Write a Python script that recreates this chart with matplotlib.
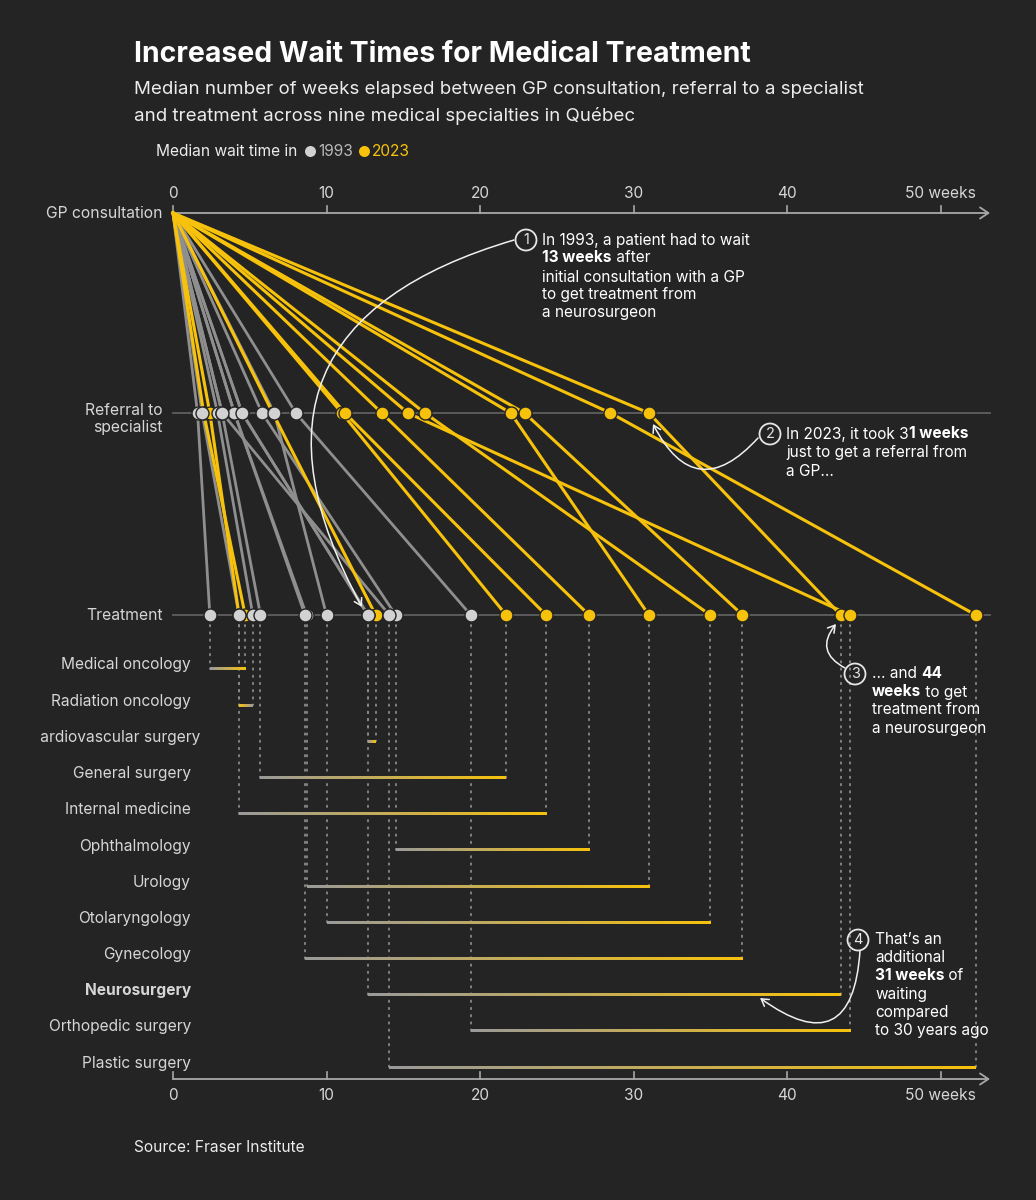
import matplotlib
matplotlib.use("Agg")
import matplotlib.pyplot as plt
import matplotlib.transforms as mtransforms
from matplotlib.patches import Circle, FancyArrowPatch
import numpy as np

# wait times in weeks
specialties = ["Medical oncology", "Radiation oncology", "Cardiovascular surgery",
               "General surgery", "Internal medicine", "Ophthalmology", "Urology",
               "Otolaryngology", "Gynecology", "Neurosurgery", "Orthopedic surgery",
               "Plastic surgery"]
referral_1993 = [1.6, 2.9, 4.5, 3.2, 1.9, 5.8, 4.0, 6.6, 4.0, 4.5, 8.0, 3.2]
treatment_1993 = [2.4, 5.2, 12.7, 5.7, 4.3, 14.5, 8.7, 10.0, 8.6, 12.7, 19.4, 14.1]
referral_2023 = [2.0, 2.4, 6.5, 11.0, 11.2, 13.6, 22.0, 16.4, 22.9, 31.0, 15.3, 28.5]
treatment_2023 = [4.7, 4.3, 13.2, 21.7, 24.3, 27.1, 31.0, 35.0, 37.1, 43.5, 44.1, 52.3]
ticks = [0, 10, 20, 30, 40, 50]
tick_labels = ["0", "10", "20", "30", "40", "50 weeks"]

BG = "#242424"
GRAY_LINE = "#8f8f8f"
GRAY_DOT = "#d2d2d2"
YELLOW = "#f7c20c"
TEXT = "#ececec"
LABEL = "#d6d6d6"

W, H = 1036, 1200
X0, PPW = 173, 15.35  # pixel of week 0, pixels per week
Y_GP, Y_REF, Y_TREAT = 213, 413, 615
X_END = 990

plt.rcParams["font.family"] = ["Inter", "DejaVu Sans"]

fig = plt.figure(figsize=(W / 100, H / 100), dpi=100, facecolor=BG)
ax = fig.add_axes([0, 0, 1, 1])
ax.set_facecolor(BG)
ax.axis("off")
pix = mtransforms.Affine2D().scale(1 / W, -1 / H).translate(0, 1) + fig.transFigure


def pt(px):
    return px * 0.72


def week(px):
    return (px - X0) / PPW


# title block
fig.text(134 / W, 1 - 54 / H, "Increased Wait Times for Medical Treatment", color="white",
         fontsize=pt(28.4), fontweight="bold", va="center")
fig.text(134 / W, 1 - 90 / H, "Median number of weeks elapsed between GP consultation, referral to a specialist",
         color=TEXT, fontsize=pt(18.7), va="center")
fig.text(134 / W, 1 - 116 / H, "and treatment across nine medical specialties in Québec",
         color=TEXT, fontsize=pt(18.7), va="center")

renderer = fig.canvas.get_renderer()


def rich(x, y, parts, size, color="white"):
    for s, bold in parts:
        t = ax.text(x, y, s, transform=pix, fontsize=pt(size), color=color,
                    fontweight="bold" if bold else "normal", va="center", ha="left")
        x += t.get_window_extent(renderer).width


# legend
ax.text(156, 151, "Median wait time in", transform=pix, fontsize=pt(15.5), color=TEXT, va="center")
ax.plot([310], [151], "o", transform=pix, ms=pt(11), color=GRAY_DOT, mec="none")
ax.text(318, 151, "1993", transform=pix, fontsize=pt(15.5), color="#b9b9b9", va="center")
ax.plot([364], [151], "o", transform=pix, ms=pt(11), color=YELLOW, mec="none")
ax.text(372, 151, "2023", transform=pix, fontsize=pt(15.5), color=YELLOW, va="center")

# axes lines (top and bottom) and row guides
for y in (Y_GP, 1079):
    ax.add_patch(FancyArrowPatch((X0, y), (X_END, y), transform=pix, arrowstyle="->,head_length=6,head_width=4",
                                 color="#a8a8a8", lw=1.3, shrinkA=0, shrinkB=0))
for y in (Y_REF, Y_TREAT):
    ax.plot([X0, X_END], [y, y], transform=pix, color="#5f5f5f", lw=1.3, zorder=1)

for v, lab in zip(ticks, tick_labels):
    xp = X0 + v * PPW
    ax.plot([xp, xp], [Y_GP - 7, Y_GP], transform=pix, color="#a8a8a8", lw=1.2)
    ax.plot([xp, xp], [1079 - 7, 1079], transform=pix, color="#a8a8a8", lw=1.2)
    ax.text(xp, 193, lab, transform=pix, fontsize=pt(15.5), color=LABEL, ha="center", va="center")
    ax.text(xp, 1096, lab, transform=pix, fontsize=pt(15.5), color=LABEL, ha="center", va="center")

ax.text(163, Y_GP, "GP consultation", transform=pix, fontsize=pt(15.7), color=LABEL, ha="right", va="center")
ax.text(163, 419, "Referral to\nspecialist", transform=pix, fontsize=pt(15.7), color=LABEL, ha="right",
        va="center", linespacing=1.15)
ax.text(163, Y_TREAT, "Treatment", transform=pix, fontsize=pt(15.7), color=LABEL, ha="right", va="center")

# data axes: x in weeks, y in pixel rows
ax.set_xlim(week(0), week(W))
ax.set_ylim(H, 0)

# paths GP -> referral -> treatment
for r, tr in zip(referral_1993, treatment_1993):
    ax.plot([0, r, tr], [Y_GP, Y_REF, Y_TREAT], color=GRAY_LINE, lw=2.0, zorder=2,
            solid_joinstyle="round")
for r, tr in zip(referral_2023, treatment_2023):
    ax.plot([0, r, tr], [Y_GP, Y_REF, Y_TREAT], color=YELLOW, lw=2.2, zorder=3,
            solid_joinstyle="round")

dot = dict(marker="o", ls="none", ms=pt(13), mec=BG, mew=1.0)
ax.plot(referral_2023, [Y_REF] * len(referral_2023), color=YELLOW, zorder=4, **dot)
ax.plot(treatment_2023, [Y_TREAT] * len(treatment_2023), color=YELLOW, zorder=4, **dot)
ax.plot(referral_1993, [Y_REF] * len(referral_1993), color=GRAY_DOT, zorder=5, **dot)
ax.plot(treatment_1993, [Y_TREAT] * len(treatment_1993), color=GRAY_DOT, zorder=5, **dot)

# bottom: change per specialty
bar_y0, bar_step = 669, 36.2
grad = np.linspace(0, 1, 256).reshape(1, -1)
cmap = matplotlib.colors.LinearSegmentedColormap.from_list("wy", ["#9a9a9a", YELLOW])
for i, (name, a, b) in enumerate(zip(specialties, treatment_1993, treatment_2023)):
    yb = bar_y0 + i * bar_step
    for v in (a, b):
        ax.plot([v, v], [Y_TREAT + 10, yb], color="#8a8a8a", lw=1.3, ls=(0, (0.8, 3.2)),
                dash_capstyle="round", zorder=1)
    ax.imshow(grad, cmap=cmap, extent=[a, b, yb + 1.5, yb - 1.5], aspect="auto",
              interpolation="bilinear", zorder=3)
    right = 200 if name == "Cardiovascular surgery" else 191
    lab = ax.text(right, yb - 4, name, transform=pix, fontsize=pt(15.5), color=LABEL, ha="right",
                  va="center", fontweight="bold" if name == "Neurosurgery" else "normal")
    if name == "Cardiovascular surgery":
        # the first letter is cut off at the left edge in the original
        full_w = lab.get_window_extent(renderer).width
        probe = ax.text(0, 0, "C", transform=pix, fontsize=pt(15.5))
        c_w = probe.get_window_extent(renderer).width
        probe.remove()
        clip = mtransforms.Bbox.from_extents(right - full_w + c_w, 0, W, H)
        lab.set_clip_box(mtransforms.TransformedBbox(clip, pix))
        lab.set_clip_on(True)

ax.set_xlim(week(0), week(W))
ax.set_ylim(H, 0)

# annotations
def badge(x, y, n):
    ax.add_patch(Circle((x, y), 10.5, transform=pix, fill=False, ec="#e6e6e6", lw=1.3))
    ax.text(x, y + 0.5, n, transform=pix, fontsize=pt(14.5), color="#e6e6e6", ha="center", va="center")


def curve(p0, p1, rad):
    ax.add_patch(FancyArrowPatch(p0, p1, transform=pix, connectionstyle=f"arc3,rad={rad}",
                                 arrowstyle="->,head_length=5,head_width=3", color="#f0f0f0",
                                 lw=1.1, shrinkA=0, shrinkB=0, zorder=6))


fs = 15.4
badge(526, 240, "1")
rich(542, 240, [("In 1993, a patient had to wait", False)], fs)
rich(542, 258, [("13 weeks", True), (" after", False)], fs)
rich(542, 277, [("initial consultation with a GP", False)], fs)
rich(542, 295, [("to get treatment from", False)], fs)
rich(542, 313, [("a neurosurgeon", False)], fs)
curve((514, 240), (362, 607), 0.62)

badge(770, 434, "2")
rich(786, 434, [("In 2023, it took 3", False), ("1 weeks", True)], fs)
rich(786, 453, [("just to get a referral from", False)], fs)
rich(786, 472, [("a GP...", False)], fs)
curve((758, 438), (653, 424), -0.72)

badge(855, 674, "3")
rich(872, 674, [("... and ", False), ("44", True)], fs)
rich(872, 692, [("weeks", True), (" to get", False)], fs)
rich(872, 710, [("treatment from", False)], fs)
rich(872, 728, [("a neurosurgeon", False)], fs)
curve((845, 668), (836, 624), -0.6)

badge(858, 940, "4")
rich(875, 940, [("That\u2019s an", False)], fs)
rich(875, 958, [("additional", False)], fs)
rich(875, 976, [("31 weeks", True), (" of", False)], fs)
rich(875, 994, [("waiting", False)], fs)
rich(875, 1012, [("compared", False)], fs)
rich(875, 1030, [("to 30 years ago", False)], fs)
curve((860, 951), (760, 998), -0.9)

fig.text(134 / W, 1 - 1147 / H, "Source: Fraser Institute", color=TEXT, fontsize=pt(15.5), va="center")

fig.savefig("out.png", dpi=100, facecolor=BG)
